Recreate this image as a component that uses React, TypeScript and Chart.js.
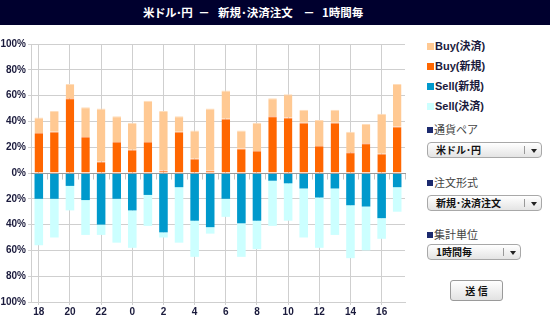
import React, { useEffect, useRef } from 'react';
import { Chart, registerables } from 'chart.js';

Chart.register(...registerables);

const hours = ['18', '19', '20', '21', '22', '23', '0', '1', '2', '3', '4', '5', '6', '7', '8', '9', '10', '11', '12', '13', '14', '15', '16', '17'];
const buyNew = [31, 32, 58, 28, 9, 24, 18, 24, 2, 32, 11, 2, 42, 19, 17, 44, 43, 39, 21, 39, 16, 23, 15, 36];
const buyClose = [12, 16, 11, 23, 41, 20, 21, 32, 46, 12, 22, 48, 22, 14, 22, 14, 18, 10, 20, 10, 16, 15, 31, 33];
const sellNew = [20, 20, 10, 21, 40, 20, 29, 17, 46, 11, 37, 42, 20, 39, 37, 6, 8, 12, 19, 12, 25, 26, 35, 11];
const sellClose = [36, 30, 19, 27, 8, 34, 29, 24, 4, 43, 28, 5, 14, 26, 22, 35, 29, 38, 39, 36, 41, 34, 16, 19];
const yTicks = [-100, -80, -60, -40, -20, 0, 20, 40, 60, 80, 100];

const legendItems = [
  { label: 'Buy(決済)', color: '#FFC993' },
  { label: 'Buy(新規)', color: '#FF6600' },
  { label: 'Sell(新規)', color: '#0099CC' },
  { label: 'Sell(決済)', color: '#CCFFFF' },
];

const NAVY = '#1a1a3c';
const JP = '"Noto Sans CJK JP", sans-serif';
const MIX = '"Liberation Sans", "Noto Sans CJK JP", sans-serif';

function Select(props: { left: number; top: number; width: number; sep: number; text: string }) {
  const { left, top, width, sep, text } = props;
  return (
    <div
      style={{
        position: 'absolute', left, top, width, height: 16, boxSizing: 'border-box',
        border: '1px solid #a8a8a8', borderRadius: 4,
        background: 'linear-gradient(#ffffff, #e4e4e4)',
      }}
    >
      <div style={{ position: 'absolute', left: 8, top: 0, lineHeight: '14px', fontSize: 10, fontWeight: 'bold', fontFamily: JP, color: '#111', whiteSpace: 'nowrap' }}>{text}</div>
      <div style={{ position: 'absolute', left: sep - left, top: 3, width: 1, height: 8, background: '#999' }} />
      <div style={{ position: 'absolute', left: sep - left + 7, top: 6, width: 0, height: 0, borderLeft: '3px solid transparent', borderRight: '3px solid transparent', borderTop: '4px solid #222' }} />
    </div>
  );
}

function Header(props: { top: number; text: string }) {
  return (
    <div style={{ position: 'absolute', left: 427, top: props.top, height: 12 }}>
      <div style={{ position: 'absolute', left: 0, top: 3, width: 6, height: 6, background: '#1c2a6e' }} />
      <div style={{ position: 'absolute', left: 7, top: -3, fontSize: 11, lineHeight: '16px', fontFamily: JP, color: '#444', whiteSpace: 'nowrap' }}>{props.text}</div>
    </div>
  );
}

const titleStyle: React.CSSProperties = {
  position: 'absolute', top: 4, fontSize: 11.5, lineHeight: '17px', fontWeight: 'bold',
  color: '#fff', fontFamily: JP, whiteSpace: 'nowrap',
};

export default function App() {
  const ref = useRef<HTMLCanvasElement>(null);

  useEffect(() => {
    if (!ref.current) return;
    const zeroPlugin = {
      id: 'zeroLine',
      afterDatasetsDraw(chart: any) {
        const { ctx, chartArea, scales } = chart;
        const xs = scales.x;
        const y0 = Math.round(scales.y.getPixelForValue(0)) + 0.5;
        const half = (xs.getPixelForValue(1) - xs.getPixelForValue(0)) / 2;
        ctx.save();
        ctx.strokeStyle = '#c4c4c4';
        ctx.lineWidth = 1;
        ctx.beginPath();
        for (let i = 1; i <= hours.length; i++) {
          const px = Math.round(xs.getPixelForValue(i - 1) + half) + 0.5;
          ctx.moveTo(px, y0);
          ctx.lineTo(px, y0 + 6);
        }
        ctx.stroke();
        ctx.strokeStyle = '#9a9a9a';
        ctx.beginPath();
        ctx.moveTo(chartArea.left, y0);
        ctx.lineTo(chartArea.right + 1, y0);
        ctx.stroke();
        ctx.restore();
      },
    };

    const chart = new Chart(ref.current, {
      type: 'bar',
      data: {
        labels: hours,
        datasets: [
          {
            label: 'Buy(新規)', data: buyNew, backgroundColor: '#FF6600',
            borderColor: '#FF9A5E', borderWidth: { top: 1, bottom: 0, left: 0, right: 0 }, borderSkipped: false,
          },
          {
            label: 'Buy(決済)', data: buyClose, backgroundColor: '#FFC993',
            borderColor: '#FFDDBB', borderWidth: { top: 1, bottom: 0, left: 0, right: 0 }, borderSkipped: false,
          },
          { label: 'Sell(新規)', data: sellNew.map((v) => -v), backgroundColor: '#0099CC', borderWidth: 0 },
          { label: 'Sell(決済)', data: sellClose.map((v) => -v), backgroundColor: '#CCFFFF', borderWidth: 0 },
        ],
      },
      options: {
        animation: false,
        responsive: false,
        maintainAspectRatio: false,
        layout: { padding: { top: 19, right: 7, bottom: 0, left: 0 } },
        plugins: { legend: { display: false }, tooltip: { enabled: false }, title: { display: false } },
        datasets: { bar: { categoryPercentage: 1, barPercentage: 0.55 } },
        scales: {
          x: {
            stacked: true,
            afterFit: (s: any) => { s.height = 21; },
            grid: {
              offset: false,
              color: (c: any) => (c.index % 2 === 0 ? '#cfcfcf' : 'rgba(0,0,0,0)'),
              tickLength: 3,
              lineWidth: 1,
            },
            border: { display: true, color: '#cfcfcf' },
            ticks: {
              autoSkip: false,
              maxRotation: 0,
              padding: 1,
              color: NAVY,
              font: { family: 'Liberation Sans', size: 10, weight: 'bold' },
              callback: (v: any, i: number) => (i % 2 === 0 ? hours[i] : ''),
            },
          },
          y: {
            stacked: true,
            min: yTicks[0],
            max: yTicks[yTicks.length - 1],
            afterFit: (s: any) => { s.width = 31; },
            afterBuildTicks: (s: any) => { s.ticks = yTicks.map((v) => ({ value: v })); },
            grid: { color: '#cfcfcf', tickLength: 3, lineWidth: 1 },
            border: { display: true, color: '#cfcfcf' },
            ticks: {
              padding: 2,
              color: NAVY,
              font: { family: 'Liberation Sans', size: 10, weight: 'bold' },
              callback: (v: any) => Math.abs(Number(v)) + '%',
            },
          },
        },
      },
      plugins: [zeroPlugin],
    } as any);
    return () => chart.destroy();
  }, []);

  return (
    <div style={{ position: 'absolute', left: 0, top: 0, width: 550, height: 323, overflow: 'hidden', background: '#fff' }}>
      <div style={{ position: 'absolute', left: 0, top: 0, width: 550, height: 25, background: '#00002e' }}>
        <span style={{ ...titleStyle, left: 143, letterSpacing: -0.5 }}>米ドル･円</span>
        <span style={{ ...titleStyle, left: 198, width: 12, textAlign: 'center' }}>－</span>
        <span style={{ ...titleStyle, left: 218 }}>新規･決済注文</span>
        <span style={{ ...titleStyle, left: 303, width: 12, textAlign: 'center' }}>－</span>
        <span style={{ ...titleStyle, left: 322 }}>1時間毎</span>
      </div>
      <canvas ref={ref} width={412} height={298} style={{ position: 'absolute', left: 0, top: 25, width: 412, height: 298 }} />
      {legendItems.map((it, i) => (
        <div key={it.label} style={{ position: 'absolute', left: 427, top: 40 + i * 20, height: 14 }}>
          <div style={{ position: 'absolute', left: 0, top: 3, width: 7, height: 7, background: it.color }} />
          <div style={{ position: 'absolute', left: 8, top: -1, fontSize: 11, lineHeight: '15px', fontWeight: 'bold', fontFamily: MIX, color: NAVY, whiteSpace: 'nowrap' }}>{it.label}</div>
        </div>
      ))}
      <Header top={124} text="通貨ペア" />
      <Select left={427} top={142} width={115} sep={523} text="米ドル･円" />
      <Header top={177} text="注文形式" />
      <Select left={427} top={195} width={115} sep={523} text="新規･決済注文" />
      <Header top={229} text="集計単位" />
      <Select left={427} top={244} width={94} sep={502} text="1時間毎" />
      <div
        style={{
          position: 'absolute', left: 450, top: 280, width: 53, height: 21, boxSizing: 'border-box',
          border: '1px solid #9a9a9a', borderRadius: 3, background: 'linear-gradient(#ffffff, #e2e2e2)',
          textAlign: 'center', lineHeight: '19px', fontSize: 10, fontWeight: 'bold', fontFamily: JP, color: '#111',
        }}
      >
        送 信
      </div>
    </div>
  );
}
